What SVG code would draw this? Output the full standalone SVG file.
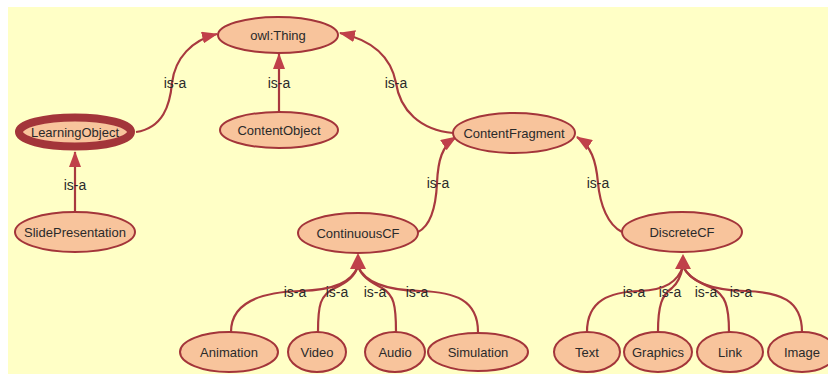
<svg xmlns="http://www.w3.org/2000/svg" width="828" height="374" viewBox="0 0 828 374">
<style>
.bg{fill:#FFFFC6}
.n ellipse{fill:#F8C49C;stroke:#A3353A;stroke-width:2}
.n text{font-family:"Liberation Sans",Arial,sans-serif;font-size:13px;fill:#2a2a2a;text-anchor:middle}
.e path{fill:none;stroke:#A8393F;stroke-width:2.2}
.ah{fill:#C0404A}
.lbl{font-family:"Liberation Sans",Arial,sans-serif;font-size:14px;fill:#2a2a2a;text-anchor:middle}
</style>
<defs>
<marker id="arr" viewBox="0 0 16 12" refX="15" refY="6" markerWidth="16" markerHeight="12" markerUnits="userSpaceOnUse" orient="auto">
<path d="M0,0 L16,6 L0,12 z" fill="#C0404A"/>
</marker>
</defs>
<rect width="828" height="374" fill="#ffffff"/>
<rect class="bg" x="8" y="7" width="820" height="367"/>
<g id="connectors" class="e">
<path d="M136,132 C163,128 170,105 172,83 C175,58 192,40 217,34" marker-end="url(#arr)"/>
<path d="M279,112 L279,54" marker-end="url(#arr)"/>
<path d="M453,133 C420,130 400,110 396,83 C391,57 372,40 340,33" marker-end="url(#arr)"/>
<path d="M418,232 C432,225 436,205 437,183 C438,160 442,146 456,137" marker-end="url(#arr)"/>
<path d="M622,232 C608,225 600,205 598,183 C596,160 591,146 577,137" marker-end="url(#arr)"/>
<path d="M75,212 L75,152" marker-end="url(#arr)"/>
<path d="M231,332 C231,300 265,292 300,291 C335,290 352,282 358,266"/>
<path d="M318,332 C318,305 320,295 335,288 C348,282 355,276 358,266"/>
<path d="M396,332 C396,305 394,295 382,288 C370,282 361,276 358,266"/>
<path d="M478,332 C478,300 455,292 420,291 C385,290 364,282 358,266"/>
<polygon class="ah" points="358,253 350,269 366,269"/>
<path d="M587,332 C587,300 610,292 640,291 C665,290 678,282 683,266"/>
<path d="M658,332 C658,305 662,295 672,288 C678,283 681,276 683,266"/>
<path d="M729,332 C729,305 725,295 712,288 C698,282 687,276 683,266"/>
<path d="M802,332 C802,300 780,292 745,291 C710,290 690,282 683,266"/>
<polygon class="ah" points="683,254 675,269 691,269"/>
<text class="lbl" x="175" y="88">is-a</text>
<text class="lbl" x="279" y="88">is-a</text>
<text class="lbl" x="396" y="88">is-a</text>
<text class="lbl" x="438" y="188">is-a</text>
<text class="lbl" x="598" y="188">is-a</text>
<text class="lbl" x="75" y="190">is-a</text>
<text class="lbl" x="295" y="297">is-a</text>
<text class="lbl" x="337" y="297">is-a</text>
<text class="lbl" x="375" y="297">is-a</text>
<text class="lbl" x="417" y="297">is-a</text>
<text class="lbl" x="634" y="297">is-a</text>
<text class="lbl" x="670" y="297">is-a</text>
<text class="lbl" x="706" y="297">is-a</text>
<text class="lbl" x="741" y="297">is-a</text>
</g>
<g id="owlThing" class="n"><ellipse cx="278" cy="35" rx="60" ry="18"/><text x="278" y="39.5">owl:Thing</text></g>
<g id="LearningObject" class="n"><ellipse cx="75" cy="132" rx="56" ry="14.5" style="stroke-width:8"/><text x="75" y="136.5">LearningObject</text></g>
<g id="ContentObject" class="n"><ellipse cx="279" cy="130" rx="59" ry="18"/><text x="279" y="134.5">ContentObject</text></g>
<g id="ContentFragment" class="n"><ellipse cx="514" cy="133" rx="61" ry="20"/><text x="514" y="137.5">ContentFragment</text></g>
<g id="SlidePresentation" class="n"><ellipse cx="75" cy="232" rx="60" ry="20"/><text x="75" y="236.5">SlidePresentation</text></g>
<g id="ContinuousCF" class="n"><ellipse cx="358" cy="233" rx="60" ry="20"/><text x="358" y="237.5">ContinuousCF</text></g>
<g id="DiscreteCF" class="n"><ellipse cx="682" cy="232" rx="60" ry="20"/><text x="682" y="236.5">DiscreteCF</text></g>
<g id="Animation" class="n"><ellipse cx="229" cy="352" rx="49" ry="20"/><text x="229" y="356.5">Animation</text></g>
<g id="Video" class="n"><ellipse cx="317" cy="352" rx="29" ry="20"/><text x="317" y="356.5">Video</text></g>
<g id="Audio" class="n"><ellipse cx="395" cy="352" rx="30" ry="20"/><text x="395" y="356.5">Audio</text></g>
<g id="Simulation" class="n"><ellipse cx="478" cy="352" rx="50" ry="19"/><text x="478" y="356.5">Simulation</text></g>
<g id="Text" class="n"><ellipse cx="587" cy="352" rx="33" ry="20"/><text x="587" y="356.5">Text</text></g>
<g id="Graphics" class="n"><ellipse cx="658" cy="352" rx="34" ry="20"/><text x="658" y="356.5">Graphics</text></g>
<g id="Link" class="n"><ellipse cx="730" cy="352" rx="33" ry="20"/><text x="730" y="356.5">Link</text></g>
<g id="Image" class="n"><ellipse cx="802" cy="352" rx="34" ry="20"/><text x="802" y="356.5">Image</text></g>
</svg>
